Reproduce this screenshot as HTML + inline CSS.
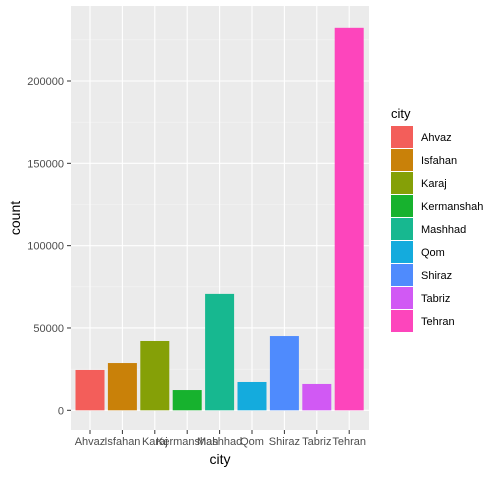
<!DOCTYPE html>
<html><head><meta charset="utf-8"><style>
body{margin:0;background:#fff;font-family:"Liberation Sans",sans-serif}
svg text{font-family:"Liberation Sans",sans-serif}
</style></head><body>
<svg id="chart" width="502" height="473" viewBox="0 0 502 473">
<rect x="71" y="6" width="298" height="424" fill="#ebebeb"/>
<g id="grid"></g><g id="bars"></g><g id="axes"></g><g id="legend"></g>
<text x="220" y="464" font-size="14" text-anchor="middle" fill="#000">city</text>
<text transform="translate(20,218) rotate(-90)" font-size="14" text-anchor="middle" fill="#000">count</text>
</svg>
<script>
const categories=["Ahvaz","Isfahan","Karaj","Kermanshah","Mashhad","Qom","Shiraz","Tabriz","Tehran"];
const counts=[24500,28700,42100,12300,70700,17200,45100,16000,232300];
const colors=["#F8766D","#CD9600","#7CAE00","#00BE67","#00BFC4","#00A9FF","#619CFF","#C77CFF","#FF61CC"];
const realColors=["#F35E5A","#C98109","#85A007","#17B22E","#17B890","#14ABDD","#4F8BFD","#D159F4","#FD45BC"];
const yTicks=[0,50000,100000,150000,200000];
const yTickLabels=["0","50000","100000","150000","200000"];
const ns="http://www.w3.org/2000/svg";
const y=v=>410.3-v*329.3/200000;
const x=i=>90+i*32.4;
const bw=29;
function mk(tag,attrs,parent){const e=document.createElementNS(ns,tag);for(const k in attrs)e.setAttribute(k,attrs[k]);document.getElementById(parent).appendChild(e);return e;}
// minor gridlines
for(let i=0;i<yTicks.length;i++){
  const m=yTicks[i]+25000;
  const mg=mk('line',{x1:71,x2:369,y1:y(m),y2:y(m),stroke:'#f5f5f5','stroke-width':0.6},'grid');
  
  
}
yTicks.forEach((t,i)=>{
  const g=mk('line',{x1:71,x2:369,y1:y(t),y2:y(t),stroke:'#fff','stroke-width':1.1},'grid');
  
  
  const tk=mk('line',{x1:67,x2:71,y1:y(t),y2:y(t),stroke:'#333','stroke-width':1},'axes');
  
  
  const tx=mk('text',{x:64,y:y(t)+4,'font-size':11,'text-anchor':'end',fill:'#4d4d4d'},'axes');
  tx.textContent=yTickLabels[i];
  
  
});
categories.forEach((c,i)=>{
  const g=mk('line',{x1:x(i),x2:x(i),y1:6,y2:430,stroke:'#fff','stroke-width':1.1},'grid');
  
  
  const b=mk('rect',{x:x(i)-bw/2,y:y(counts[i]),width:bw,height:y(0)-y(counts[i]),fill:realColors[i]},'bars');
  
  
  const tk=mk('line',{x1:x(i),x2:x(i),y1:430,y2:434,stroke:'#333','stroke-width':1},'axes');
  
  
  const tx=mk('text',{x:x(i),y:445,'font-size':11,'text-anchor':'middle',fill:'#4d4d4d'},'axes');
  tx.textContent=c;
  
  
  const k=mk('rect',{x:391,y:126+i*23,width:22,height:22,fill:realColors[i]},'legend');
  
  
  const lt=mk('text',{x:421,y:141+i*23,'font-size':11,fill:'#000'},'legend');
  lt.textContent=c;
  
  
});
const lt=mk('text',{x:391,y:118,'font-size':13,fill:'#000'},'legend');
lt.textContent='city';


</script>
</body></html>
